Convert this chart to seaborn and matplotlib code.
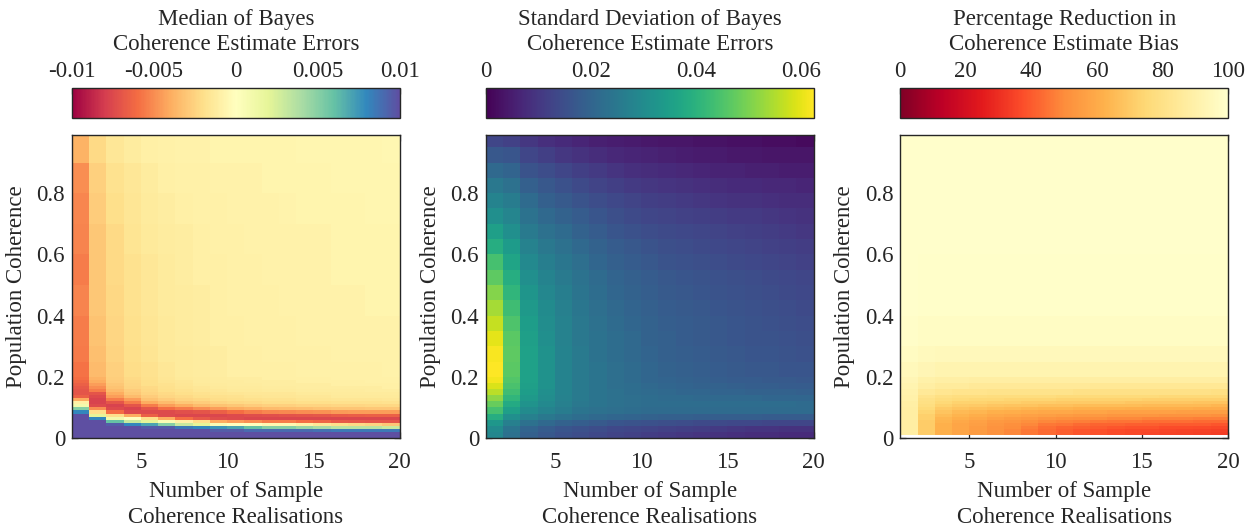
import numpy as np
import pandas as pd
import seaborn as sns
import matplotlib.pyplot as plt

# Number of sample coherence realisations: each cell spans two consecutive counts
realisations = list(range(1, 21))
x_ticks = [5, 10, 15, 20]
y_ticks = [0, 0.2, 0.4, 0.6, 0.8]
y_tick_labels = ["0", "0.2", "0.4", "0.6", "0.8"]
coherence_step = 0.01

# ---- Median of Bayes coherence estimate errors (units of 1e-3) ----
median_edges = [0, .01, .02, .03, .04, .05, .06, .07, .08, .09, .10, .11, .12, .13,
                .14, .15, .16, .17, .18, .19, .20, .25, .30, .40, .50, .60, .70,
                .80, .90, .99]
median_err_milli = [
    [10, 10, 10, 10, 10, 10, 10, 10, 8, 5, 1, -1, -4, -6.5, -7, -7, -6.8, -6.5, -6.2, -6, -5.8, -5.6, -5.5, -5.3, -5.5, -5.3, -5.2, -5, -3.8],
    [10, 10, 10, 10, 10, 10, 8, 2, -2, -5, -7.5, -7.8, -7.8, -7.5, -7, -5.5, -5, -4.5, -4, -3.8, -3.5, -3.3, -3.2, -3, -3, -3, -2.8, -2.6, -2.2],
    [10, 10, 10, 10, 9.5, 6, 1, -2, -6, -7.5, -7.8, -7, -5.5, -4.5, -4, -3.5, -3.2, -3, -2.8, -2.7, -2.6, -2.5, -2.4, -2.3, -2.2, -2.2, -2, -1.8, -1.5],
    [10, 10, 10, 10, 8, 3, 0, -4, -7.5, -7.8, -7, -5.5, -4.5, -3.5, -3, -2.8, -2.5, -2.4, -2.3, -2.2, -2.1, -2, -1.9, -1.8, -1.8, -1.7, -1.6, -1.5, -1.2],
    [10, 10, 10, 9.5, 7, 2, -2, -6.5, -7.5, -7, -5.5, -4, -3.2, -2.8, -2.5, -2.3, -2.2, -2, -2, -1.9, -1.8, -1.7, -1.6, -1.5, -1.5, -1.4, -1.3, -1.2, -1],
    [10, 10, 10, 9.5, 5, 0.5, -4, -7.5, -7.5, -6, -4.5, -3.5, -2.8, -2.4, -2.2, -2, -1.9, -1.8, -1.7, -1.6, -1.5, -1.4, -1.4, -1.3, -1.3, -1.2, -1.1, -1, -0.9],
    [10, 10, 10, 8.5, 3, -1, -6, -7.6, -7.2, -5.5, -4, -3, -2.5, -2.2, -2, -1.8, -1.7, -1.6, -1.5, -1.4, -1.3, -1.3, -1.2, -1.2, -1.1, -1.1, -1, -0.9, -0.8],
    [10, 10, 10, 8, 2, -2, -6.8, -7.6, -7, -5, -3.5, -2.8, -2.3, -2, -1.8, -1.6, -1.5, -1.4, -1.3, -1.3, -1.2, -1.2, -1.1, -1.1, -1, -1, -0.9, -0.9, -0.8],
    [10, 10, 9.5, 7.5, 0.5, -4, -7.3, -7.6, -6.5, -4.5, -3.2, -2.5, -2.1, -1.9, -1.7, -1.5, -1.4, -1.3, -1.2, -1.2, -1.1, -1.1, -1, -1, -1, -0.9, -0.9, -0.8, -0.7],
    [10, 10, 9.5, 7, 0, -4.5, -7.5, -7.5, -6, -4, -3, -2.3, -2, -1.8, -1.6, -1.4, -1.3, -1.2, -1.2, -1.1, -1, -1, -1, -0.9, -0.9, -0.9, -0.8, -0.8, -0.7],
    [10, 10, 9, 6, 0, -5, -7.6, -7.3, -5.5, -3.8, -2.8, -2.2, -1.9, -1.7, -1.5, -1.4, -1.3, -1.2, -1.1, -1.1, -1, -1, -0.9, -0.9, -0.9, -0.8, -0.8, -0.8, -0.7],
    [10, 10, 9, 5, -0.5, -5.5, -7.6, -7.2, -5.2, -3.5, -2.6, -2.1, -1.8, -1.6, -1.5, -1.3, -1.2, -1.1, -1.1, -1, -1, -0.9, -0.9, -0.9, -0.8, -0.8, -0.8, -0.7, -0.7],
    [10, 10, 9, 5, -0.5, -5.5, -7.6, -7.1, -5.1, -3.4, -2.6, -2.1, -1.8, -1.6, -1.5, -1.3, -1.2, -1.1, -1.1, -1, -0.95, -0.9, -0.9, -0.85, -0.8, -0.8, -0.75, -0.7, -0.65],
    [10, 10, 9, 4.5, -1, -6, -7.6, -7, -5, -3.3, -2.5, -2, -1.7, -1.5, -1.4, -1.2, -1.1, -1.1, -1, -1, -0.9, -0.9, -0.8, -0.8, -0.8, -0.8, -0.7, -0.7, -0.6],
    [10, 10, 8.8, 4, -1.5, -6.3, -7.6, -6.9, -4.9, -3.2, -2.5, -2, -1.7, -1.5, -1.4, -1.2, -1.1, -1.1, -1, -1, -0.9, -0.9, -0.8, -0.8, -0.8, -0.8, -0.7, -0.7, -0.6],
    [10, 10, 8.5, 3.5, -2, -6.8, -7.6, -6.7, -4.6, -3.1, -2.4, -1.9, -1.6, -1.4, -1.3, -1.2, -1.1, -1, -1, -0.9, -0.9, -0.8, -0.8, -0.8, -0.7, -0.7, -0.7, -0.6, -0.6],
    [10, 10, 8.5, 3.5, -2.2, -6.9, -7.6, -6.6, -4.5, -3.1, -2.4, -1.9, -1.6, -1.4, -1.3, -1.2, -1.1, -1, -1, -0.9, -0.9, -0.8, -0.8, -0.8, -0.7, -0.7, -0.7, -0.6, -0.6],
    [10, 10, 8.5, 3.5, -2.5, -7, -7.6, -6.5, -4.5, -3, -2.3, -1.9, -1.6, -1.4, -1.3, -1.1, -1.1, -1, -0.9, -0.9, -0.9, -0.8, -0.8, -0.7, -0.7, -0.7, -0.6, -0.6, -0.6],
    [10, 10, 8.5, 3, -3, -7, -7.6, -6.5, -4.5, -3, -2.3, -1.8, -1.5, -1.4, -1.3, -1.1, -1, -1, -0.9, -0.9, -0.8, -0.8, -0.8, -0.7, -0.7, -0.7, -0.6, -0.6, -0.5],
]
median_ticks = [-0.01, -0.005, 0, 0.005, 0.01]
median_tick_labels = ["-0.01", "-0.005", "0", "0.005", "0.01"]

# ---- Standard deviation of Bayes coherence estimate errors (units of 1e-3) ----
std_edges = [0, .02, .04, .06, .08, .10, .12, .14, .16, .18, .20, .25, .30, .35,
             .40, .45, .50, .55, .60, .65, .70, .75, .80, .85, .90, .95, .99]
std_err_milli = [
    [29, 30, 33, 39, 44, 48, 52, 56, 59, 61.5, 62.5, 62, 60, 57, 54, 51, 47, 44, 39, 35, 31, 28, 25, 21, 17, 13],
    [23, 24, 27, 31, 35, 38, 41, 43, 44.5, 45.5, 46.5, 47, 46.5, 45, 43, 41, 39, 36.5, 34, 31, 28.5, 26, 23, 20, 16.5, 12],
    [19, 20, 23, 27, 30, 32, 33.5, 34.5, 35, 35.5, 35.5, 35.5, 35, 34.5, 33.5, 32.5, 31, 29.5, 27.5, 25.5, 23.5, 21.5, 19, 16, 13, 10],
    [17, 18, 21, 25, 28, 29.5, 30.5, 31, 31.5, 31.5, 31.5, 31.5, 31, 30.5, 30, 29, 28, 26.5, 25, 23, 21, 19, 17, 14.5, 11.5, 8.5],
    [15.5, 16.5, 19.5, 23.5, 26, 27, 27.5, 28, 28, 28, 28, 28, 27.5, 27.5, 27, 26.5, 25.5, 24.5, 23, 21.5, 19.5, 17.5, 15.5, 13, 10, 7.5],
    [14.5, 15.5, 18.5, 22, 24, 25, 25.5, 25.5, 25.5, 25.5, 25.5, 25.5, 25, 25, 24.5, 24, 23.5, 22.5, 21, 19.5, 18, 16, 14, 11.5, 9, 6.5],
    [13.5, 14.5, 17.5, 21, 23, 24, 24, 24, 24, 24, 24, 23.5, 23.5, 23, 22.5, 22, 21.5, 20.5, 19.5, 18, 16.5, 14.5, 12.5, 10.5, 8, 5.5],
    [12.5, 13.5, 16.5, 20.5, 22.5, 23, 23, 23, 22.5, 22.5, 22.5, 22, 22, 21.5, 21, 20.5, 20, 19, 18, 16.5, 15, 13.5, 11.5, 9.5, 7, 5],
    [12, 13, 16, 20, 22, 22.5, 22.5, 22, 22, 21.5, 21.5, 21, 21, 20.5, 20, 19.5, 19, 18, 17, 15.5, 14, 12.5, 10.5, 8.5, 6.5, 4.5],
    [11, 12.5, 15.5, 19.5, 21.5, 22, 22, 21.5, 21, 20.5, 20.5, 20, 19.5, 19.5, 19, 18.5, 18, 17, 16, 14.5, 13, 11.5, 10, 8, 6, 4],
    [10.5, 12, 15, 19, 21.5, 22, 21.5, 21, 20.5, 20, 19.5, 19, 19, 18.5, 18, 17.5, 17, 16, 15, 14, 12.5, 11, 9.5, 7.5, 5.5, 3.5],
    [10, 11.5, 14.5, 19, 21.5, 22, 21.5, 20.5, 20, 19.5, 19, 18.5, 18, 18, 17.5, 17, 16.5, 15.5, 14.5, 13.5, 12, 10.5, 9, 7, 5, 3.5],
    [9.5, 11, 14, 18.5, 21.5, 22, 21, 20.5, 19.5, 19, 18.5, 18, 17.5, 17.5, 17, 16.5, 16, 15, 14, 13, 11.5, 10, 8.5, 6.5, 4.5, 3],
    [9, 10.5, 14, 18.5, 21.5, 22, 21, 20, 19.5, 18.5, 18, 17.5, 17, 17, 16.5, 16, 15.5, 14.5, 13.5, 12.5, 11, 9.5, 8, 6, 4.5, 3],
    [8.5, 10, 13.5, 18.5, 21.5, 22, 21, 20, 19, 18, 17.5, 17, 16.5, 16.5, 16, 15.5, 15, 14, 13, 12, 10.5, 9, 7.5, 6, 4, 2.5],
    [8, 9.5, 13.5, 18.5, 21.5, 22, 21, 19.5, 18.5, 18, 17, 16.5, 16, 16, 15.5, 15, 14.5, 13.5, 12.5, 11.5, 10.5, 9, 7.5, 5.5, 4, 2.5],
    [8, 9.5, 13, 18, 21.5, 22, 20.5, 19.5, 18.5, 17.5, 17, 16.5, 16, 15.5, 15, 14.5, 14, 13, 12, 11, 10, 8.5, 7, 5.5, 3.5, 2],
    [7.5, 9, 13, 18, 21.5, 22, 20.5, 19.5, 18, 17.5, 16.5, 16, 15.5, 15, 14.5, 14, 13.5, 12.5, 11.5, 10.5, 9.5, 8, 7, 5, 3.5, 2],
    [7.5, 9, 13, 18, 21.5, 21.5, 20.5, 19, 18, 17, 16.5, 15.5, 15, 14.5, 14, 13.5, 13, 12, 11, 10, 9, 8, 6.5, 5, 3.5, 1.5],
]
std_ticks = [0, 0.02, 0.04, 0.06]
std_tick_labels = ["0", "0.02", "0.04", "0.06"]
std_max = 0.0625

# ---- Percentage reduction in coherence estimate bias ----
bias_edges = [0, .01, .02, .03, .04, .05, .06, .07, .08, .09, .10, .11, .12, .13,
              .14, .16, .18, .20, .25, .30, .40, .60, .99]
nan = np.nan
bias_reduction_pct = [
    [nan, 88, 88, 88, 88, 88, 88, 88, 88, 88, 89, 89, 90, 90, 91, 92, 93, 95, 97, 98.5, 99.5, 99.5],
    [nan, 71, 71, 71, 71, 71, 72, 72, 74, 76, 78, 79, 80, 82, 85, 88, 90, 93, 95.5, 97.5, 99, 99.5],
    [nan, 62, 62, 62, 62, 63, 64, 66, 68, 70, 73, 75, 77, 79, 83, 86, 89, 92, 95, 97.5, 99, 99.5],
    [nan, 58, 58, 58, 58, 59, 61, 63, 65, 68, 71, 73, 76, 78, 82, 86, 89, 92, 95, 97.5, 99, 99.5],
    [nan, 55, 55, 55, 56, 57, 59, 61, 64, 67, 70, 73, 75, 78, 82, 85, 88, 92, 95, 97.5, 99, 99.5],
    [nan, 52, 52, 52, 53, 54, 57, 59, 62, 66, 69, 72, 75, 77, 81, 85, 88, 92, 95, 97.5, 99, 99.5],
    [nan, 49, 49, 50, 51, 53, 55, 58, 61, 65, 68, 72, 74, 77, 81, 85, 88, 92, 95, 97.5, 99, 99.5],
    [nan, 46, 46, 47, 49, 51, 54, 57, 60, 64, 68, 71, 74, 77, 81, 85, 88, 92, 95, 97.5, 99, 99.5],
    [nan, 43, 43, 44, 46, 49, 52, 56, 59, 63, 67, 71, 74, 77, 81, 85, 88, 92, 95, 97.5, 99, 99.5],
    [nan, 41, 41, 42, 45, 48, 51, 55, 59, 63, 67, 70, 73, 76, 81, 85, 88, 92, 95, 97.5, 99, 99.5],
    [nan, 39, 39, 41, 43, 47, 50, 54, 58, 62, 66, 70, 73, 76, 80, 85, 88, 92, 95, 97.5, 99, 99.5],
    [nan, 38, 38, 40, 42, 46, 50, 54, 58, 62, 66, 70, 73, 76, 80, 84, 88, 92, 95, 97.5, 99, 99.5],
    [nan, 37, 37, 39, 42, 45, 49, 53, 57, 62, 66, 70, 73, 76, 80, 84, 88, 92, 95, 97.5, 99, 99.5],
    [nan, 36, 36, 38, 41, 45, 49, 53, 57, 61, 66, 69, 73, 76, 80, 84, 88, 92, 95, 97.5, 99, 99.5],
    [nan, 35.5, 36, 38, 41, 44, 48, 53, 57, 61, 65, 69, 72, 76, 80, 84, 88, 92, 95, 97.5, 99, 99.5],
    [nan, 35, 35.5, 37, 40, 44, 48, 52, 57, 61, 65, 69, 72, 75, 80, 84, 88, 92, 95, 97.5, 99, 99.5],
    [nan, 34.5, 35, 37, 40, 44, 48, 52, 56, 61, 65, 69, 72, 75, 80, 84, 88, 92, 95, 97.5, 99, 99.5],
    [nan, 34, 34.5, 36.5, 40, 43, 47, 52, 56, 60, 65, 68, 72, 75, 80, 84, 88, 92, 95, 97.5, 99, 99.5],
    [nan, 33.5, 34, 36, 39, 43, 47, 51, 56, 60, 64, 68, 72, 75, 79, 84, 88, 92, 95, 97.5, 99, 99.5],
]
bias_ticks = [0, 20, 40, 60, 80, 100]
bias_tick_labels = ["0", "20", "40", "60", "80", "100"]

INK = "#262626"
FS = 16.5


def banded_frame(edges, columns, scale=1.0):
    """Spread each coherence band over a regular 0.01 grid (rows bottom to top)."""
    vals = np.array(columns, dtype=float).T * scale
    reps = np.round(np.diff(edges) / coherence_step).astype(int)
    grid = np.repeat(vals, reps, axis=0)
    index = np.round(np.arange(grid.shape[0]) * coherence_step, 2)
    return pd.DataFrame(grid, index=index, columns=realisations[:-1])


sns.set_theme(style="white")
plt.rcParams["font.family"] = ["Liberation Serif", "DejaVu Serif"]
plt.rcParams["text.color"] = INK
plt.rcParams["axes.labelcolor"] = INK
plt.rcParams["xtick.color"] = INK
plt.rcParams["ytick.color"] = INK

fig = plt.figure(figsize=(12.6, 5.31), dpi=100)

panels = [
    dict(df=banded_frame(median_edges, median_err_milli, 1e-3), cmap="Spectral",
         vmin=-0.01, vmax=0.01, ticks=median_ticks, labels=median_tick_labels,
         title="Median of Bayes\nCoherence Estimate Errors"),
    dict(df=banded_frame(std_edges, std_err_milli, 1e-3), cmap="viridis",
         vmin=0, vmax=std_max, ticks=std_ticks, labels=std_tick_labels,
         title="Standard Deviation of Bayes\nCoherence Estimate Errors"),
    dict(df=banded_frame(bias_edges, bias_reduction_pct), cmap="YlOrRd_r",
         vmin=0, vmax=100, ticks=bias_ticks, labels=bias_tick_labels,
         title="Percentage Reduction in\nCoherence Estimate Bias"),
]

lefts = [0.0571, 0.3857, 0.7145]
width = 0.2601
for left, p in zip(lefts, panels):
    ax = fig.add_axes([left, 0.1751, width, 0.5706])
    cax = fig.add_axes([left, 0.7787, width, 0.0556])
    sns.heatmap(p["df"], ax=ax, cmap=p["cmap"], vmin=p["vmin"], vmax=p["vmax"],
                cbar_ax=cax, cbar_kws=dict(orientation="horizontal"),
                xticklabels=False, yticklabels=False)
    ax.invert_yaxis()

    ax.set_xticks([t - realisations[0] for t in x_ticks])
    ax.set_xticklabels([str(t) for t in x_ticks])
    ax.set_yticks([v / coherence_step for v in y_ticks])
    ax.set_yticklabels(y_tick_labels, rotation=0)
    for s in ax.spines.values():
        s.set_visible(True)
        s.set_color(INK)
        s.set_linewidth(1.0)
    ax.tick_params(direction="in", length=4, width=0.9, top=True, right=True,
                   bottom=True, left=True, labelsize=FS)
    ax.tick_params(axis="x", pad=10)
    ax.tick_params(axis="y", pad=5)
    ax.set_xlabel("Number of Sample\nCoherence Realisations", fontsize=FS,
                  linespacing=1.3, labelpad=6)
    ax.set_ylabel("Population Coherence", fontsize=FS, labelpad=7)

    cbar = ax.collections[0].colorbar
    cbar.outline.set_visible(True)
    cbar.outline.set_edgecolor(INK)
    cbar.outline.set_linewidth(1.0)
    cax.xaxis.set_ticks_position("top")
    cax.xaxis.set_label_position("top")
    cax.set_xticks(p["ticks"])
    cax.set_xticklabels(p["labels"])
    cax.tick_params(axis="x", direction="in", length=4, width=0.9, top=True,
                    bottom=False, labelsize=FS, pad=4)
    cax.set_xlabel(p["title"], fontsize=FS, linespacing=1.25, labelpad=8)

fig.savefig("out.png", dpi=100)
